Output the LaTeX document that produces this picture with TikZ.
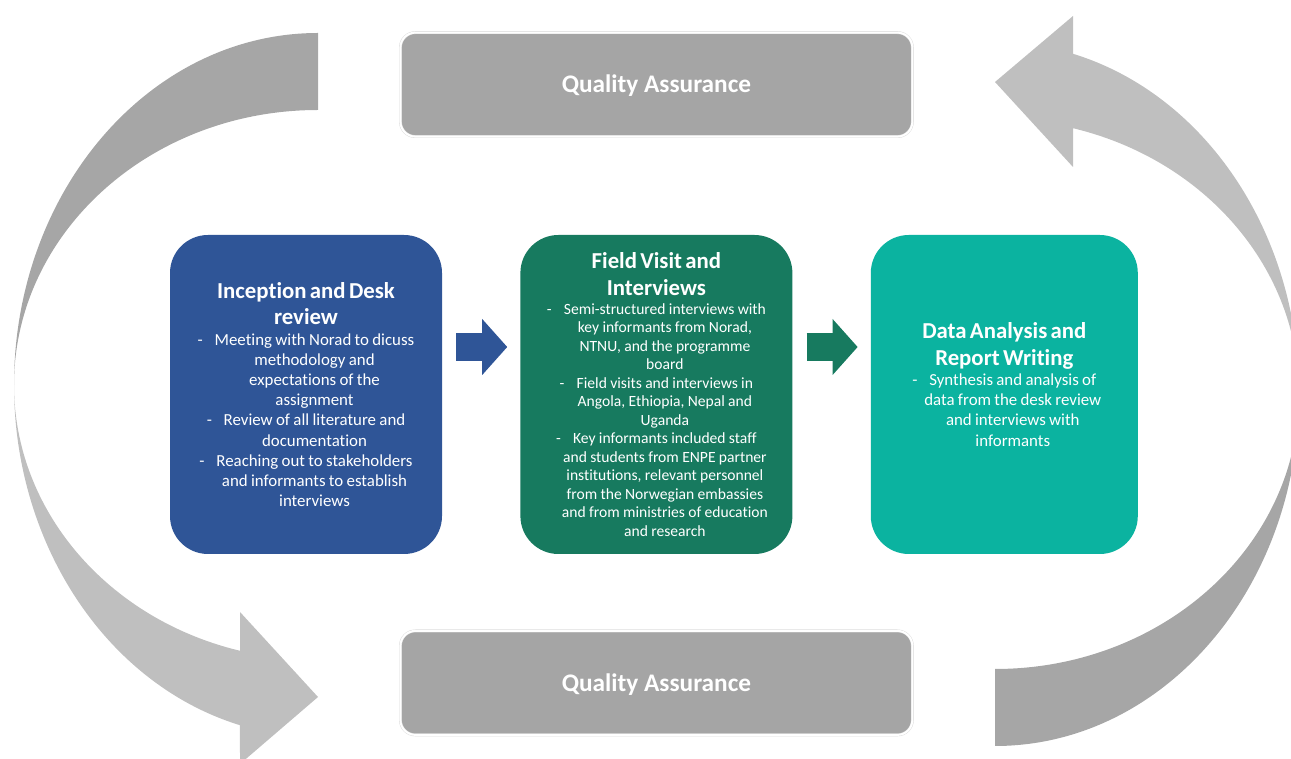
\documentclass[tikz,border=0pt]{standalone}
\usepackage{fontspec}
\setmainfont{Carlito}[Ligatures=CommonOff]
\usetikzlibrary{positioning,arrows.meta}
\definecolor{qagray}{HTML}{A5A5A5}
\definecolor{deskblue}{HTML}{2F5597}
\definecolor{fieldgreen}{HTML}{177A5F}
\definecolor{reportteal}{HTML}{0BB3A0}
\definecolor{loopdark}{HTML}{A6A6A6}
\definecolor{looplight}{HTML}{BFBFBF}
\newcommand{\Head}{\fontsize{22.8}{26.7}\selectfont\bfseries}
\newcommand{\Body}{\fontsize{16.85}{20.2}\selectfont}
\newcommand{\BodySmall}{\fontsize{15.6}{18.5}\selectfont}
\newcommand{\Item}{\makebox[17pt][l]{-}}
\newcommand{\Cont}{\hspace*{17pt}}

\begin{document}
\begin{tikzpicture}[x=1pt,y=1pt,
  stage/.style={rounded corners=38pt,minimum width=272pt,minimum height=319pt,
    inner sep=0pt,text width=262pt,align=center,text=white},
  qa/.style={fill=qagray,rounded corners=15pt,minimum width=512pt,minimum height=104pt,
    draw=black!15,double=white,double distance=2pt,text=white,
    text height=16.3pt,text depth=0pt,
    font=\fontsize{25.3}{30}\selectfont\bfseries},
  flow/.style={line width=28pt,-{Triangle[length=25pt,width=56pt,line width=0pt]}}]
  \useasboundingbox (0,0) rectangle (1291,758);
  \clip (0,0) rectangle (1291,758);

  % left loop, tail at the top
  \fill[loopdark] (318,725) arc[start angle=90,end angle=180,x radius=304,y radius=352]
    arc[start angle=180,end angle=90,x radius=304,y radius=275] -- cycle;
  \fill[looplight] (14,373) arc[start angle=180,end angle=255.13,x radius=304,y radius=352]
    -- (240,-6) -- (318,61) -- (240,146) -- (240,107.2)
    arc[start angle=255.13,end angle=180,x radius=304,y radius=275] -- cycle;
  % right loop, tail at the bottom
  \fill[loopdark] (995,12) arc[start angle=270,end angle=360,x radius=304,y radius=352]
    arc[start angle=0,end angle=-90,x radius=304,y radius=275] -- cycle;
  \fill[looplight] (1299,364) arc[start angle=0,end angle=75.13,x radius=304,y radius=352]
    -- (1073,742) -- (995,676) -- (1073,591) -- (1073,629.8)
    arc[start angle=75.13,end angle=0,x radius=304,y radius=275] -- cycle;

  \node[stage,fill=deskblue] (desk) at (306,363.5)
    {{\Head Inception and Desk\\ review\par}
     \Body\Item Meeting with Norad to dicuss\\
     \Cont methodology and\\
     \Cont expectations of the\\
     \Cont assignment\\
     \Item Review of all literature and\\
     \Cont documentation\\
     \Item Reaching out to stakeholders\\
     \Cont and informants to establish\\
     \Cont interviews\par};
  \node[stage,fill=fieldgreen,right=78pt of desk] (field)
    {{\Head Field Visit and\\ Interviews\par}
     \BodySmall\Item Semi-structured interviews with\\
     \Cont key informants from Norad,\\
     \Cont NTNU, and the programme\\
     \Cont board\\
     \Item Field visits and interviews in\\
     \Cont Angola, Ethiopia, Nepal and\\
     \Cont Uganda\\
     \Item Key informants included staff\\
     \Cont and students from ENPE partner\\
     \Cont institutions, relevant personnel\\
     \Cont from the Norwegian embassies\\
     \Cont and from ministries of education\\
     \Cont and research\par};
  \node[stage,fill=reportteal,minimum width=267pt,text width=257pt,right=78pt of field] (report)
    {{\Head Data Analysis and\\ Report Writing\par}
     \Body\Item Synthesis and analysis of\\
     \Cont data from the desk review\\
     \Cont and interviews with\\
     \Cont informants\\ \mbox{}\par};

  \node[qa,above=98pt of field] (qatop) {Quality Assurance};
  \node[qa,below=76.5pt of field] (qabottom) {Quality Assurance};

  \draw[flow,deskblue] ([xshift=14pt,yshift=47.5pt]desk.east) -- ([xshift=-13pt,yshift=47.5pt]field.west);
  \draw[flow,fieldgreen] ([xshift=14pt,yshift=47.5pt]field.east) -- ([xshift=-13pt,yshift=47.5pt]report.west);
\end{tikzpicture}
\end{document}
